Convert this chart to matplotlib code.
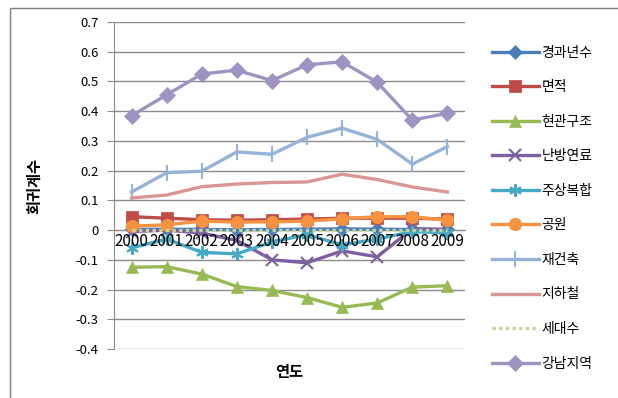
import matplotlib
matplotlib.use("Agg")
import matplotlib.pyplot as plt
from matplotlib.patches import Rectangle

plt.rcParams['font.family'] = ['Noto Sans CJK KR', 'DejaVu Sans']

years = ['2000', '2001', '2002', '2003', '2004', '2005', '2006', '2007', '2008', '2009']

age = [0.002, 0.003, 0.002, 0.001, 0.002, 0.003, 0.004, 0.003, 0.002, 0.002]
area = [0.045, 0.040, 0.035, 0.033, 0.035, 0.037, 0.040, 0.040, 0.040, 0.037]
entrance = [-0.125, -0.123, -0.148, -0.190, -0.203, -0.227, -0.260, -0.245, -0.192, -0.187]
heating = [-0.005, 0.000, -0.010, -0.035, -0.100, -0.110, -0.070, -0.090, 0.005, 0.002]
mixed_use = [-0.060, -0.030, -0.075, -0.080, -0.040, -0.015, -0.050, -0.030, -0.005, -0.010]
park = [0.013, 0.018, 0.030, 0.027, 0.028, 0.030, 0.038, 0.045, 0.045, 0.033]
rebuild = [0.128, 0.193, 0.198, 0.263, 0.255, 0.312, 0.343, 0.305, 0.222, 0.281]
subway = [0.108, 0.118, 0.146, 0.155, 0.160, 0.162, 0.188, 0.170, 0.145, 0.128]
households = [0.000, 0.000, 0.000, 0.000, 0.000, 0.000, 0.000, 0.000, 0.000, 0.000]
gangnam = [0.385, 0.455, 0.525, 0.538, 0.503, 0.556, 0.566, 0.497, 0.370, 0.393]

y_ticks = [-0.4, -0.3, -0.2, -0.1, 0, 0.1, 0.2, 0.3, 0.4, 0.5, 0.6, 0.7]
y_tick_labels = ['-0.4', '-0.3', '-0.2', '-0.1', '0', '0.1', '0.2', '0.3',
                 '0.4', '0.5', '0.6', '0.7']

series = [
    ('경과년수', age, '#4A7EBB', 'D', 7, '-'),
    ('면적', area, '#BE4B48', 's', 9, '-'),
    ('현관구조', entrance, '#98B954', '^', 9, '-'),
    ('난방연료', heating, '#7D60A0', 'x', 8, '-'),
    ('주상복합', mixed_use, '#46AAC5', (6, 2, 0), 9, '-'),
    ('공원', park, '#F69240', 'o', 9, '-'),
    ('재건축', rebuild, '#95B3D7', '|', 12, '-'),
    ('지하철', subway, '#D99694', None, 0, '-'),
    ('세대수', households, '#C3D69B', None, 0, (0, (1, 1))),
    ('강남지역', gangnam, '#A093C2', 'D', 8, '-'),
]

fig = plt.figure(figsize=(6.18, 3.98), dpi=100)
fig.patches.append(Rectangle((10 / 618, -0.1), 1.2, 1 - 8 / 398 + 0.1,
                             transform=fig.transFigure, fill=False,
                             edgecolor='#7f7f7f', linewidth=1.0))

ax = fig.add_axes([114 / 618, 1 - 349 / 398, (465 - 114) / 618, (349 - 22) / 398])

# horizontal gridlines beneath the series
for yv in y_ticks:
    ax.axhline(yv, color='#8c8c8c', linewidth=1.0, zorder=1)

x = list(range(len(years)))
for name, vals, color, marker, ms, ls in series:
    mew = 1.5 if marker in ('x', '|') or isinstance(marker, tuple) else 0.5
    ax.plot(x, vals, color=color, linewidth=2.4, linestyle=ls,
            marker=marker, markersize=ms, markeredgewidth=mew,
            markeredgecolor=color, label=name, zorder=2)

ax.set_xlim(-0.5, len(years) - 0.5)
ax.set_ylim(-0.4, 0.7)
ax.set_yticks(y_ticks)
ax.set_yticklabels(y_tick_labels)
ax.set_xticks(x)
ax.set_xticklabels(years)

ax.set_axisbelow(False)
for s in ['top', 'right']:
    ax.spines[s].set_visible(False)
ax.spines['bottom'].set_position(('data', 0))
ax.spines['bottom'].set_color('#8c8c8c')
ax.spines['bottom'].set_zorder(1)
ax.spines['left'].set_color('#8c8c8c')
ax.tick_params(axis='y', length=5, color='#8c8c8c', labelsize=9.5, pad=6)
ax.tick_params(axis='x', length=0, labelsize=11, pad=2)

ax.set_ylabel('회귀계수', fontsize=11, fontweight='bold')
ax.yaxis.set_label_coords(-0.205, 0.5)
ax.set_xlabel('연도', fontsize=11, fontweight='bold')
ax.xaxis.set_label_coords(0.5, -0.045)

fig.legend(loc='upper left', bbox_to_anchor=(486 / 618, 1 - 40 / 398),
           frameon=False, fontsize=10, handlelength=3.4, handletextpad=0.2,
           labelspacing=1.48, borderaxespad=0)

fig.savefig('out.png', dpi=100)
